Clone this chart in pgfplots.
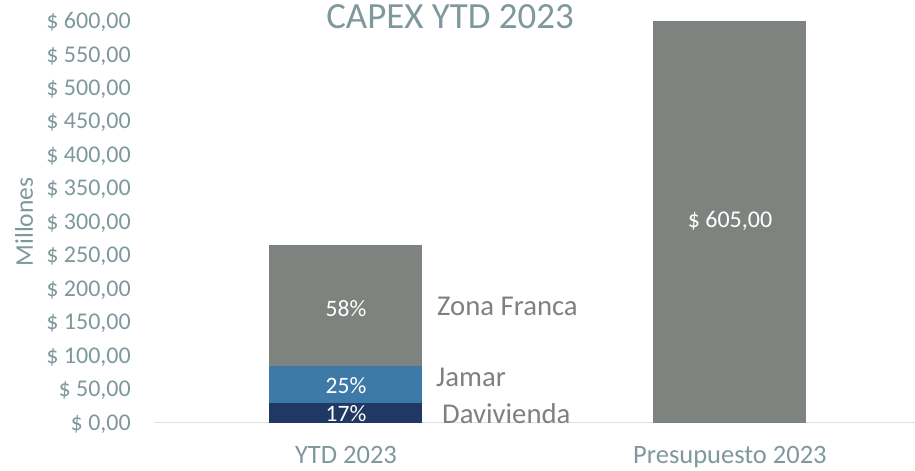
\documentclass[border=0pt]{standalone}
\usepackage{fontspec}
\setmainfont{Carlito}
\usepackage{pgfplots}
\pgfplotsset{compat=1.18}
\definecolor{bargrey}{HTML}{7F837F}
\definecolor{jamar}{HTML}{3E7AA7}
\definecolor{davi}{HTML}{1F3864}
\definecolor{axtext}{HTML}{7E989B}
\definecolor{sertext}{HTML}{808080}
\definecolor{baseln}{HTML}{D9E1E2}
\begin{document}
\begin{tikzpicture}
\begin{axis}[
  at={(0,0)}, anchor=south west, scale only axis,
  width=761bp, height=401.5bp,
  xmin=-0.5, xmax=1.482, ymin=0, ymax=600,
  ybar stacked, bar width=153bp,
  clip mode=individual,
  separate axis lines,
  axis x line*=bottom, axis y line*=left,
  x axis line style={draw=baseln, line width=1.5bp, -},
  y axis line style={draw=none},
  major tick length=0pt,
  xtick={0,1}, xticklabels={YTD 2023, Presupuesto 2023},
  ytick={0,50,...,600},
  /pgf/number format/assume math mode=true,
  yticklabel={\$ \pgfmathprintnumber[fixed,fixed zerofill,precision=2,use comma]{\tick}},
  yticklabel style={font=\fontsize{24bp}{28bp}\selectfont, text=axtext, inner sep=0pt, anchor=base east, xshift=-23bp, yshift=-7.6bp},
  xticklabel style={font=\fontsize{26.5bp}{30bp}\selectfont, text=axtext, inner sep=0pt, anchor=base, yshift=-40.5bp},
]
\addplot[fill=davi, draw=none] coordinates {(0,29) (1,0)};
\addplot[fill=jamar, draw=none] coordinates {(0,55) (1,0)};
\addplot[fill=bargrey, draw=none] coordinates {(0,181) (1,0)};
\addplot[fill=bargrey, draw=none] coordinates {(0,0) (1,605)};
\end{axis}
\begin{scope}[every node/.style={inner sep=0pt}]
\node[anchor=base, text=white, font=\fontsize{23.5bp}{28bp}\selectfont] at (192bp,106.1bp) {58\%};
\node[anchor=base, text=white, font=\fontsize{23.5bp}{28bp}\selectfont] at (192bp,29.4bp) {25\%};
\node[anchor=base, text=white, font=\fontsize{23.5bp}{28bp}\selectfont] at (192bp,1.1bp) {17\%};
\node[anchor=base, text=white, font=\fontsize{24bp}{28bp}\selectfont] at (576bp,195bp) {\$ 605,00};
\node[anchor=base west, text=sertext, font=\fontsize{28.7bp}{32bp}\selectfont] at (283bp,107.3bp) {Zona Franca};
\node[anchor=base west, text=sertext, font=\fontsize{28.7bp}{32bp}\selectfont] at (282bp,36.3bp) {Jamar};
\node[anchor=base west, text=sertext, font=\fontsize{28.7bp}{32bp}\selectfont] at (288bp,-0.5bp) {Davivienda};
\node[anchor=base, text=axtext, font=\fontsize{36.9bp}{40bp}\selectfont] at (296bp,394bp) {CAPEX YTD 2023};
\node[anchor=base, rotate=90, text=axtext, font=\fontsize{25.5bp}{30bp}\selectfont] at (-121bp,200.5bp) {Millones};
\end{scope}
\pgfresetboundingbox
\path[use as bounding box] (-154bp,-48.5bp) rectangle (761bp,422.5bp);
\end{tikzpicture}
\end{document}
